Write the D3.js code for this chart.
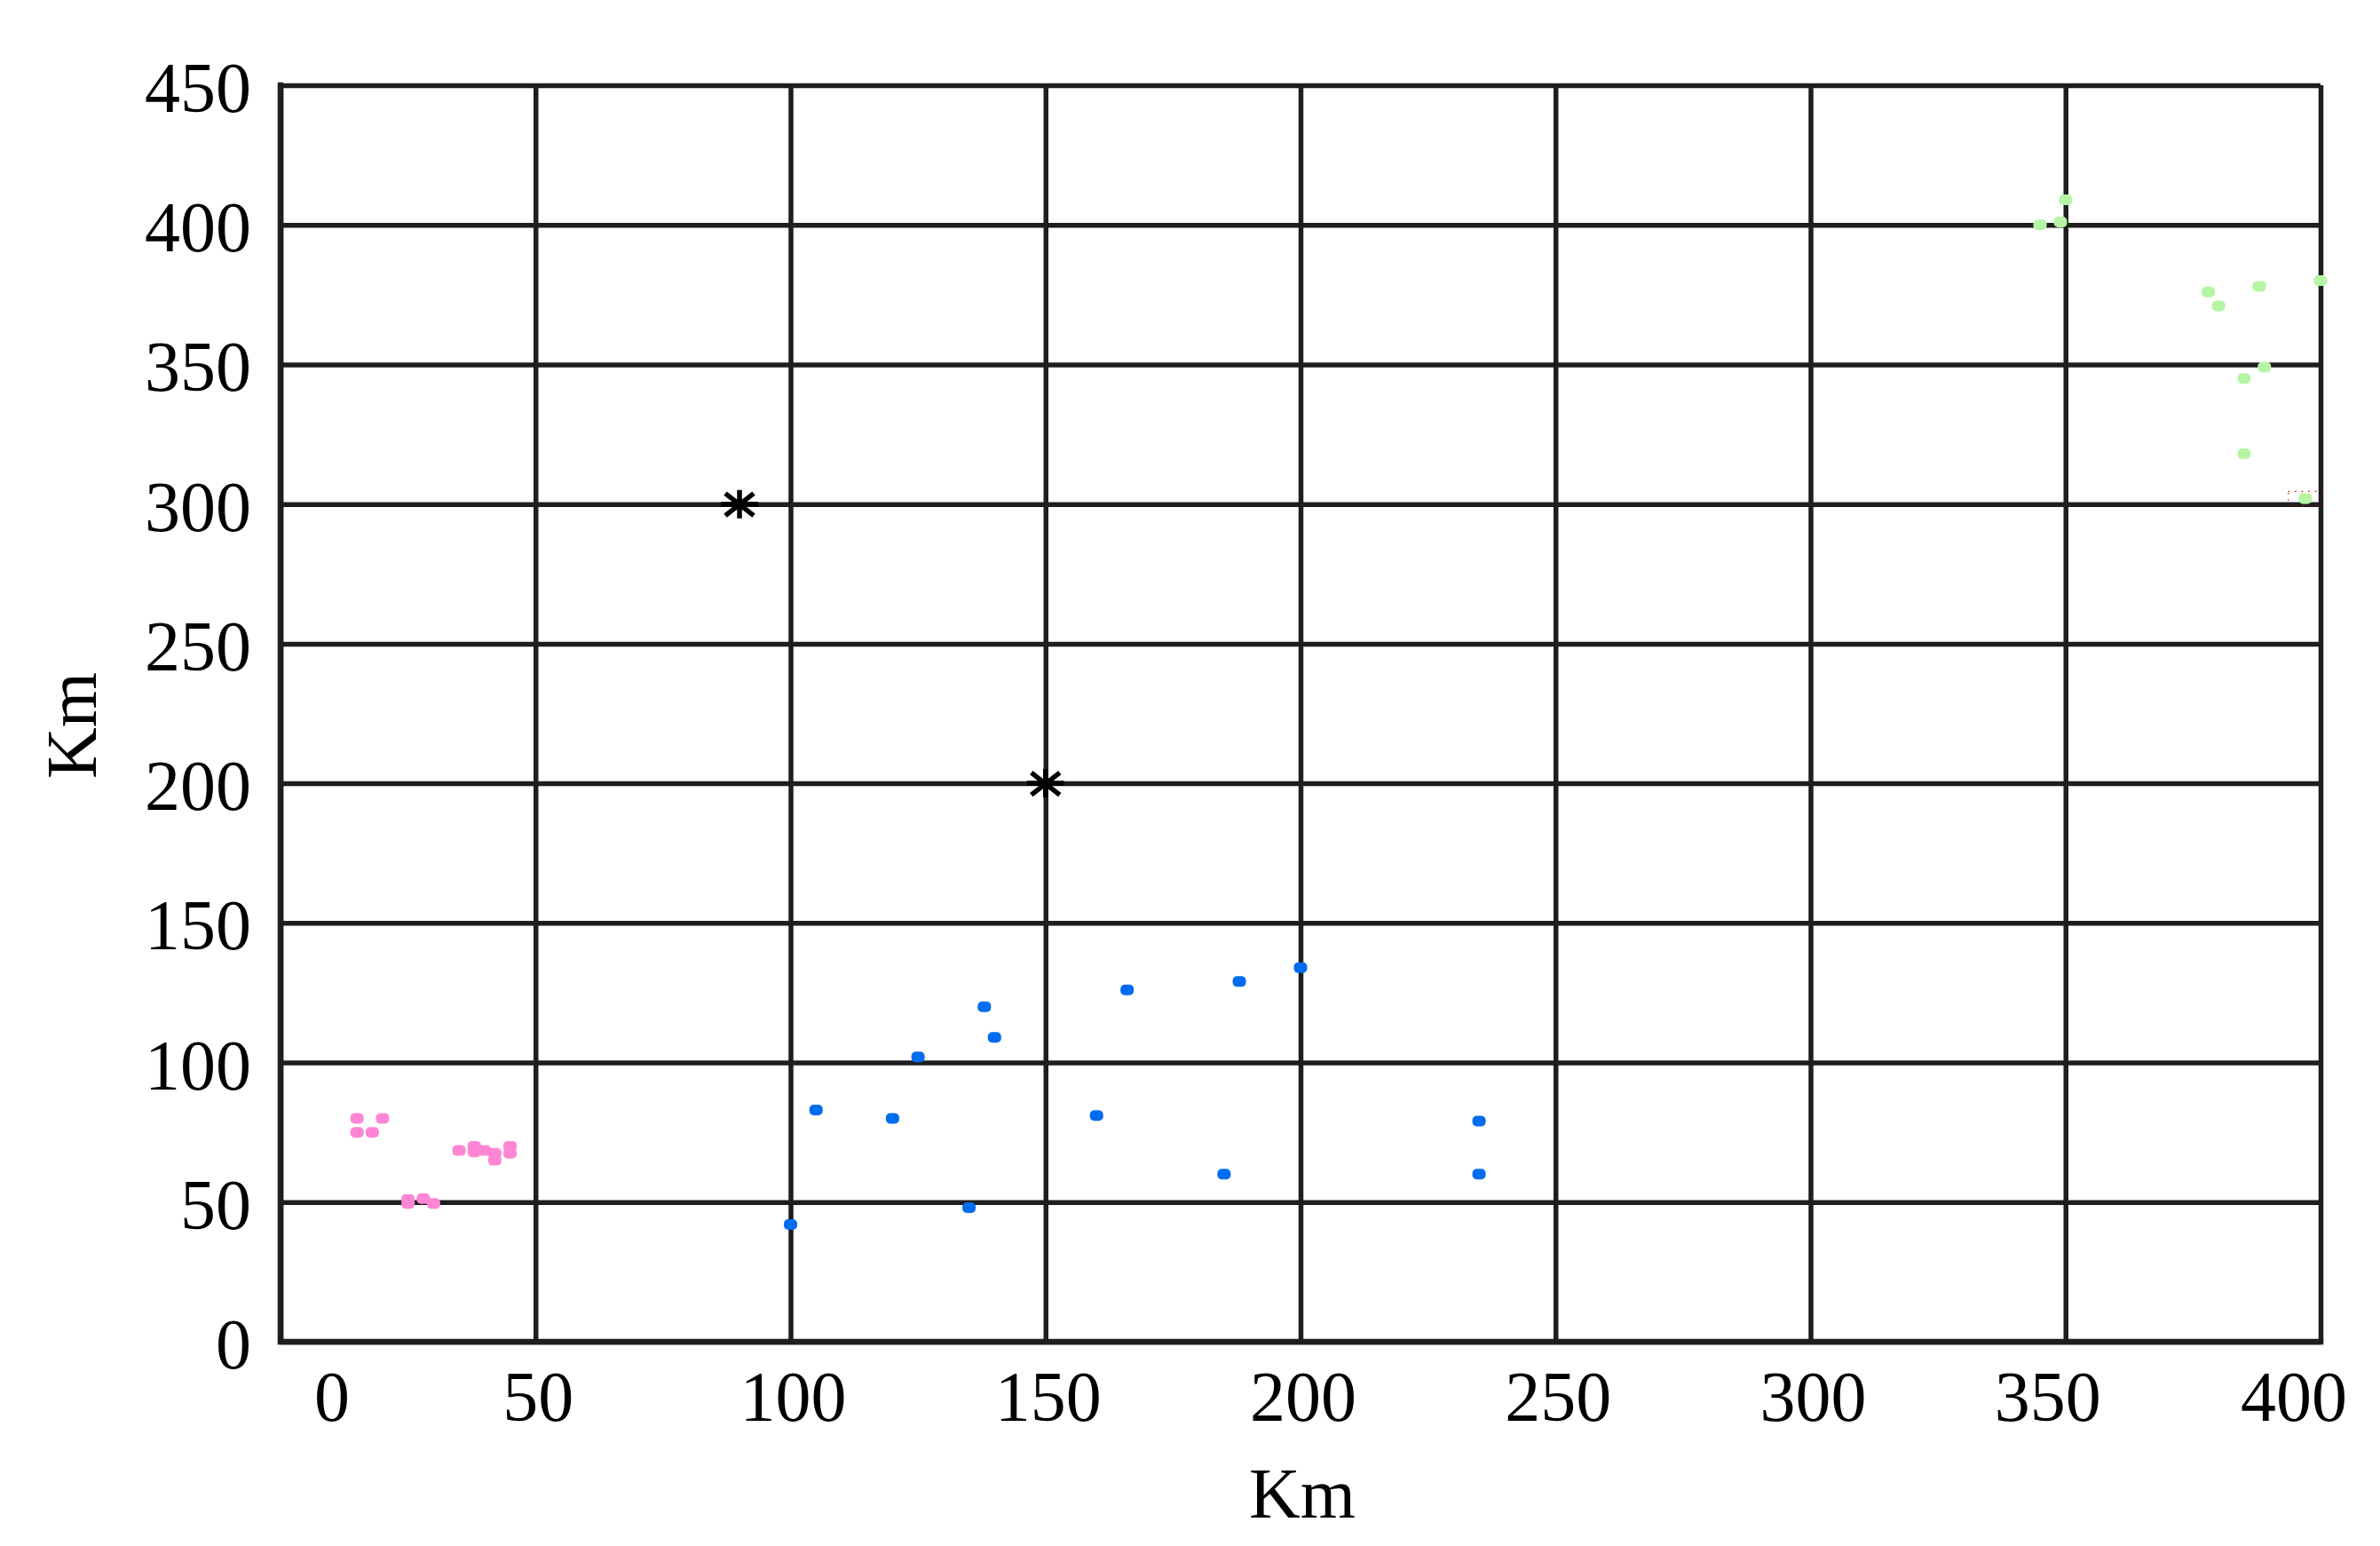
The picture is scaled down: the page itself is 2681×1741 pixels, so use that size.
<!DOCTYPE html>
<html>
<head>
<meta charset="utf-8">
<script src="https://cdn.jsdelivr.net/npm/d3@7"></script>
<style>
  body { margin: 0; background: #fff; }
  text { font-family: "Liberation Serif", "Times New Roman", serif; fill: #000; }
</style>
</head>
<body>
<script>
// x ticks / y ticks
var xTicks = [0, 50, 100, 150, 200, 250, 300, 350, 400];
var yTicks = [0, 50, 100, 150, 200, 250, 300, 350, 400, 450];

// pink group
var pinkX = [15, 20, 15, 18, 35, 38, 38, 40, 42, 42, 45, 45, 25, 25, 28, 30];
var pinkY = [80, 80, 75, 75, 68.5, 70, 68, 68.5, 67.5, 65, 70, 67.5, 51, 49.5, 51.3, 49.5];

// blue group
var blueX = [100, 105, 120, 125, 135, 138, 140, 160, 166, 185, 188, 200, 235, 235];
var blueY = [42, 83, 80, 102, 48, 120, 109, 81, 126, 60, 129, 134, 79, 60];

// green group
var greenX = [350, 345, 349, 400, 388, 378, 380, 389, 385, 385, 397];
var greenY = [409, 400, 401, 380, 378, 376, 371, 349, 345, 318, 302];

// red dotted marker
var redX = [397];
var redY = [302];

// black stars
var starX = [90, 150];
var starY = [300, 200];

var W = 2681, H = 1741;
var mLeft = 316, mRight = 2614, mTop = 96, mBottom = 1511;

var svg = d3.select("body").append("svg")
  .attr("width", W)
  .attr("height", H);

var x = d3.scaleLinear().domain([0, 400]).range([mLeft, mRight]);
var y = d3.scaleLinear().domain([0, 450]).range([mBottom, mTop]);

var gridColor = "#1e1e1e";

//horizontal grid
svg.append("g")
  .attr("transform", "translate(" + mLeft + ",0)")
  .call(d3.axisLeft(y).tickValues(yTicks).tickSize(-(mRight - mLeft)).tickFormat(""))
  .call(function(g) {
    g.select(".domain").remove();
    g.selectAll("line").attr("stroke", gridColor).attr("stroke-width", 5.5);
  });

//vertical grid
svg.append("g")
  .attr("transform", "translate(0," + mBottom + ")")
  .call(d3.axisBottom(x).tickValues(xTicks).tickSize(-(mBottom - mTop)).tickFormat(""))
  .call(function(g) {
    g.select(".domain").remove();
    g.selectAll("line").attr("stroke", gridColor).attr("stroke-width", 5.5);
  });

//frame left + bottom
svg.append("path")
  .attr("d", "M" + mLeft + "," + mTop + "V" + mBottom + "H" + mRight)
  .attr("fill", "none")
  .attr("stroke", gridColor)
  .attr("stroke-width", 6.5)
  .attr("stroke-linecap", "square");

//y labels
svg.append("g").selectAll("text")
  .data(yTicks)
  .enter()
  .append("text")
  .attr("x", 283)
  .attr("y", function(d) { return y(d) + 30; })
  .attr("text-anchor", "end")
  .attr("font-size", 80)
  .text(function(d) { return d; });

//x labels (end ones pulled inward like the original)
function xShift(d) {
  if (d === 0) return 58;
  if (d === 400) return -30;
  if (d === 350) return -20;
  return 3;
}
svg.append("g").selectAll("text")
  .data(xTicks)
  .enter()
  .append("text")
  .attr("x", function(d) { return x(d) + xShift(d); })
  .attr("y", 1600)
  .attr("text-anchor", "middle")
  .attr("font-size", 80)
  .text(function(d) { return d; });

//axis titles
svg.append("text")
  .attr("x", 1467)
  .attr("y", 1709)
  .attr("text-anchor", "middle")
  .attr("font-size", 80)
  .text("Km");

svg.append("text")
  .attr("transform", "translate(108,817) rotate(-90)")
  .attr("text-anchor", "middle")
  .attr("font-size", 80)
  .text("Km");

//dots
function drawDots(xs, ys, color) {
  svg.append("g").selectAll("rect")
    .data(xs.map(function(v, i) { return [v, ys[i]]; }))
    .enter()
    .append("rect")
    .attr("x", function(d) { return x(d[0]) - 7.5; })
    .attr("y", function(d) { return y(d[1]) - 6; })
    .attr("width", 15)
    .attr("height", 12)
    .attr("rx", 5)
    .attr("fill", color);
}
drawDots(pinkX, pinkY, "#ff86d4");
drawDots(blueX, blueY, "#006cf0");
drawDots(greenX, greenY, "#b6f5a6");

//red dotted outline marker
svg.append("g").selectAll("rect")
  .data(redX.map(function(v, i) { return [v, redY[i]]; }))
  .enter()
  .append("rect")
  .attr("x", function(d) { return x(d[0]) - 19; })
  .attr("y", function(d) { return y(d[1]) - 8; })
  .attr("width", 38)
  .attr("height", 16)
  .attr("fill", "none")
  .attr("stroke", "#c00000")
  .attr("stroke-width", 1.2)
  .attr("stroke-dasharray", "1.5 6");

//stars
function starPath(d) {
  var cx = x(d[0]), cy = y(d[1]);
  return "M" + cx + "," + (cy - 16) + "V" + (cy + 16) +
    "M" + (cx - 21) + "," + cy + "H" + (cx + 21) +
    "M" + (cx - 16) + "," + (cy - 12) + "L" + (cx + 16) + "," + (cy + 13) +
    "M" + (cx + 16) + "," + (cy - 12) + "L" + (cx - 16) + "," + (cy + 13);
}
svg.append("g").selectAll("path")
  .data(starX.map(function(v, i) { return [v, starY[i]]; }))
  .enter()
  .append("path")
  .attr("d", starPath)
  .attr("fill", "none")
  .attr("stroke", "#000")
  .attr("stroke-width", 5.5);
</script>
</body>
</html>
